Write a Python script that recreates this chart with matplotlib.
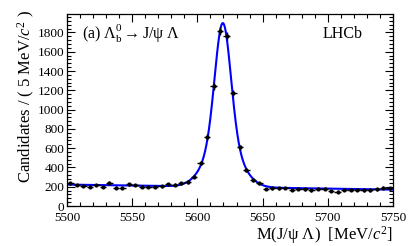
import numpy as np
import matplotlib
matplotlib.use("Agg")
import matplotlib.pyplot as plt
from matplotlib.ticker import MultipleLocator

plt.rcParams['font.family'] = ['Liberation Serif', 'DejaVu Serif']
plt.rcParams['mathtext.fontset'] = 'custom'
plt.rcParams['mathtext.rm'] = 'Liberation Serif'
plt.rcParams['mathtext.it'] = 'Liberation Serif:italic'
plt.rcParams['mathtext.bf'] = 'Liberation Serif:bold'

# ---- data ----
bin_centers = np.arange(5502.5, 5750, 5.0)
counts = [236, 218, 211, 200, 218, 200, 242, 190, 190, 225,
          218, 200, 197, 200, 204, 225, 221, 236, 249, 304,
          443, 716, 1243, 1815, 1760, 1170, 609, 374, 270, 236,
          177, 184, 184, 188, 166, 177, 173, 163, 180, 180,
          156, 149, 166, 166, 166, 163, 163, 173, 190, 184]
bin_half_width = 2.5

# fit model parameters (double Gaussian + linear background, per 5 MeV bin)
fit_mean = 5619.5
fit_sigma_core = 6.0
fit_sigma_wide = 12.5
fit_amp_core = 1200.0
fit_amp_wide = 500.0
bkg_at_5500 = 222.0
bkg_slope = -0.208

x_ticks = [5500, 5550, 5600, 5650, 5700, 5750]
y_ticks = [0, 200, 400, 600, 800, 1000, 1200, 1400, 1600, 1800]

fig = plt.figure(figsize=(4.15, 2.46), dpi=100)
ax = fig.add_axes([0.1614, 0.1626, 0.947 - 0.1614, 0.943 - 0.1626])

m = np.linspace(5500, 5750, 1000)
curve = (bkg_at_5500 + bkg_slope * (m - 5500)
         + fit_amp_core * np.exp(-0.5 * ((m - fit_mean) / fit_sigma_core) ** 2)
         + fit_amp_wide * np.exp(-0.5 * ((m - fit_mean) / fit_sigma_wide) ** 2))
ax.plot(m, curve, color='#0000ff', lw=1.5, zorder=2)

counts_arr = np.array(counts, dtype=float)
ax.errorbar(bin_centers, counts_arr, xerr=bin_half_width, yerr=np.sqrt(counts_arr),
            fmt='o', ms=2.0, color='black', ecolor='black', elinewidth=1.0,
            capsize=0, zorder=3)

ax.set_xlim(5500, 5750)
ax.set_ylim(0, 1991)
ax.set_xticks(x_ticks)
ax.set_yticks(y_ticks)
ax.xaxis.set_minor_locator(MultipleLocator(10))
ax.yaxis.set_minor_locator(MultipleLocator(40))
ax.tick_params(which='both', direction='in', top=True, right=True, labelsize=9.5,
               width=0.8, pad=2)
ax.tick_params(axis='x', which='major', pad=4.5)
ax.tick_params(which='major', length=6)
ax.tick_params(which='minor', length=3)
for s in ax.spines.values():
    s.set_linewidth(0.9)

ax.set_xlabel(r"M(J/ψ Λ)  [MeV/$c^{2}$]", fontsize=12, loc='right', labelpad=0)
ax.set_ylabel(r"Candidates / ( 5 MeV/$c^{2}$ )", fontsize=12, loc='top', labelpad=0.5)
ax.yaxis.label.set_y(1.02)

ax.text(0.047, 0.895, r"(a) $\mathrm{Λ}_\mathrm{b}^{0}\rightarrow$J/ψ Λ", transform=ax.transAxes,
        fontsize=11.5, va='center', ha='left')
ax.text(0.785, 0.895, "LHCb", transform=ax.transAxes, fontsize=11.5,
        va='center', ha='left')

fig.savefig("out.png", dpi=100)
